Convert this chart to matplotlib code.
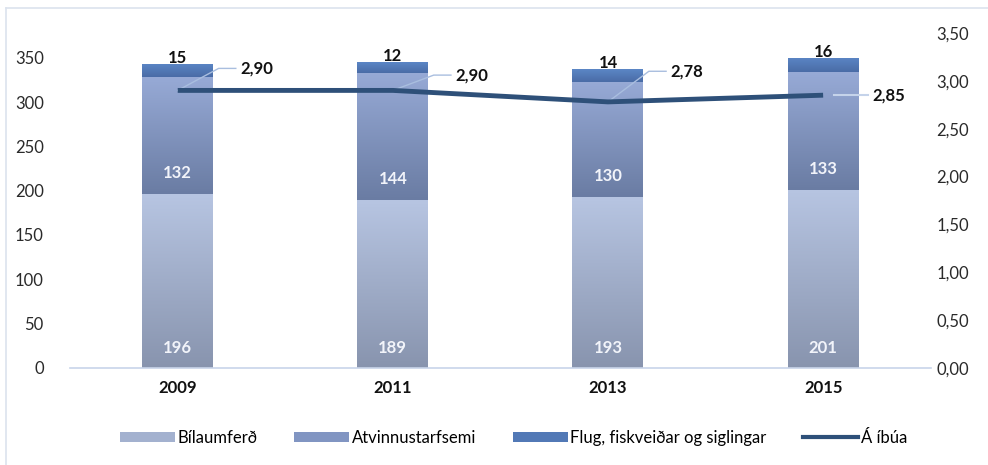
import matplotlib
matplotlib.use("Agg")
import matplotlib.pyplot as plt
import numpy as np
from matplotlib.colors import LinearSegmentedColormap
from matplotlib.patches import Patch
from matplotlib.lines import Line2D

years = ["2009", "2011", "2013", "2015"]
bilaumferd = [196, 189, 193, 201]
atvinnustarfsemi = [132, 144, 130, 133]
flug = [15, 12, 14, 16]
a_ibua = [2.90, 2.90, 2.78, 2.85]
a_ibua_labels = ["2,90", "2,90", "2,78", "2,85"]
left_ticks = [0, 50, 100, 150, 200, 250, 300, 350]
right_ticks = [0.0, 0.5, 1.0, 1.5, 2.0, 2.5, 3.0, 3.5]
series_names = ["Bílaumferð", "Atvinnustarfsemi", "Flug, fiskveiðar og siglingar", "Á íbúa"]

plt.rcParams['font.family'] = ['Lato', 'DejaVu Sans']

fig = plt.figure(figsize=(9.88, 4.65), dpi=100)
ax = fig.add_axes([0.071, 0.209, 0.871, 0.72])
ax2 = ax.twinx()

# light frame around chart (left and top edges visible)
fig.add_artist(Line2D([6/988, 6/988], [0, 1 - 8/465], transform=fig.transFigure, color="#DCE3EE", lw=1.2))
fig.add_artist(Line2D([6/988, 1], [1 - 8/465, 1 - 8/465], transform=fig.transFigure, color="#DCE3EE", lw=1.2))

x = np.arange(len(years))
width = 0.33

grads = [
    ("#B7C5E2", "#8894AE"),
    ("#97AAD6", "#6A7CA3"),
    ("#5B86C6", "#4A6CA6"),
]

def grad_bar(ax, xs, heights, bottoms, ctop, cbot, z):
    bars = ax.bar(xs, heights, width, bottom=bottoms, color=cbot, edgecolor='none', zorder=z)
    cmap = LinearSegmentedColormap.from_list("g", [cbot, ctop])
    grad = np.linspace(0, 1, 256).reshape(-1, 1)
    for b in bars:
        bx, by = b.get_x(), b.get_y()
        im = ax.imshow(grad, cmap=cmap, aspect='auto', origin='lower',
                       extent=[bx, bx + b.get_width(), by, by + b.get_height()], zorder=z + 0.1)
        im.set_clip_path(b)
    return bars

b0 = np.zeros(4)
grad_bar(ax, x, bilaumferd, b0, *grads[0], 2)
b1 = np.array(bilaumferd, dtype=float)
grad_bar(ax, x, atvinnustarfsemi, b1, *grads[1], 2)
b2 = b1 + np.array(atvinnustarfsemi)
grad_bar(ax, x, flug, b2, *grads[2], 2)
tops = b2 + np.array(flug)

FS = 12
ax.set_xlim(-0.5, 3.5)
ax.set_ylim(0, 378)
ax.set_yticks(left_ticks)
ax.set_yticklabels([str(t) for t in left_ticks], fontsize=FS, color="#2A2A2A")
ax.set_xticks(x)
ax.set_xticklabels(years, fontsize=FS, fontweight='bold', color="#111111")
ax.tick_params(axis='y', length=0, pad=19)
ax.tick_params(axis='x', length=0, pad=9)
for s in ['top', 'right', 'left']:
    ax.spines[s].set_visible(False)
ax.spines['bottom'].set_color("#C8D4EA")
ax.spines['bottom'].set_linewidth(1.2)

for i in range(4):
    ax.text(x[i], 22, str(bilaumferd[i]), ha='center', va='center', color='#F2F4FA',
            fontsize=FS, fontweight='bold', zorder=5)
    ax.text(x[i], b1[i] + 24, str(atvinnustarfsemi[i]), ha='center', va='center', color='#F2F4FA',
            fontsize=FS, fontweight='bold', zorder=5)
    ax.text(x[i], tops[i] + 7, str(flug[i]), ha='center', va='center', color='#111111',
            fontsize=FS, fontweight='bold', zorder=5)

ax2.plot(x, a_ibua, color="#2E5079", lw=3.5, zorder=6, solid_capstyle='butt')
ax2.set_ylim(0, 3.5)
ax2.set_yticks(right_ticks)
ax2.set_yticklabels([f"{t:.2f}".replace('.', ',') for t in right_ticks], fontsize=FS, color="#2A2A2A")
ax2.tick_params(axis='y', length=0, pad=4)
for s in ['top', 'right', 'left', 'bottom']:
    ax2.spines[s].set_visible(False)
ax.set_zorder(1)
ax2.set_zorder(2)
ax2.patch.set_visible(False)

# data labels with leader lines (offsets in axis-data units)
offsets = [(0.33, 0.23), (0.33, 0.16), (0.33, 0.32), (0.27, 0.0)]
for i in range(4):
    dx, dy = offsets[i]
    tx, ty = x[i] + dx, a_ibua[i] + dy
    if dy > 0:
        ax2.plot([x[i], tx - 0.14, tx - 0.06], [a_ibua[i], ty, ty], color="#A9BEDF", lw=1.0, zorder=5)
    else:
        ax2.plot([x[i] + 0.05, tx - 0.06], [a_ibua[i], ty], color="#C5D3EA", lw=1.5, zorder=5)
    ax2.text(tx - 0.04, ty, a_ibua_labels[i], ha='left', va='center', fontsize=FS,
             fontweight='bold', color='#111111', zorder=7)

handles = [Patch(facecolor="#A3B1CF"), Patch(facecolor="#8195C2"), Patch(facecolor="#5279B6"),
           Line2D([0], [0], color="#2E5079", lw=3)]
fig.legend(handles, series_names, loc='center', bbox_to_anchor=(0.52, 0.058), ncol=4, frameon=False,
           fontsize=FS, handlelength=3.3, handleheight=0.6, columnspacing=2.2, handletextpad=0.15)

fig.savefig("out.png", dpi=100)
